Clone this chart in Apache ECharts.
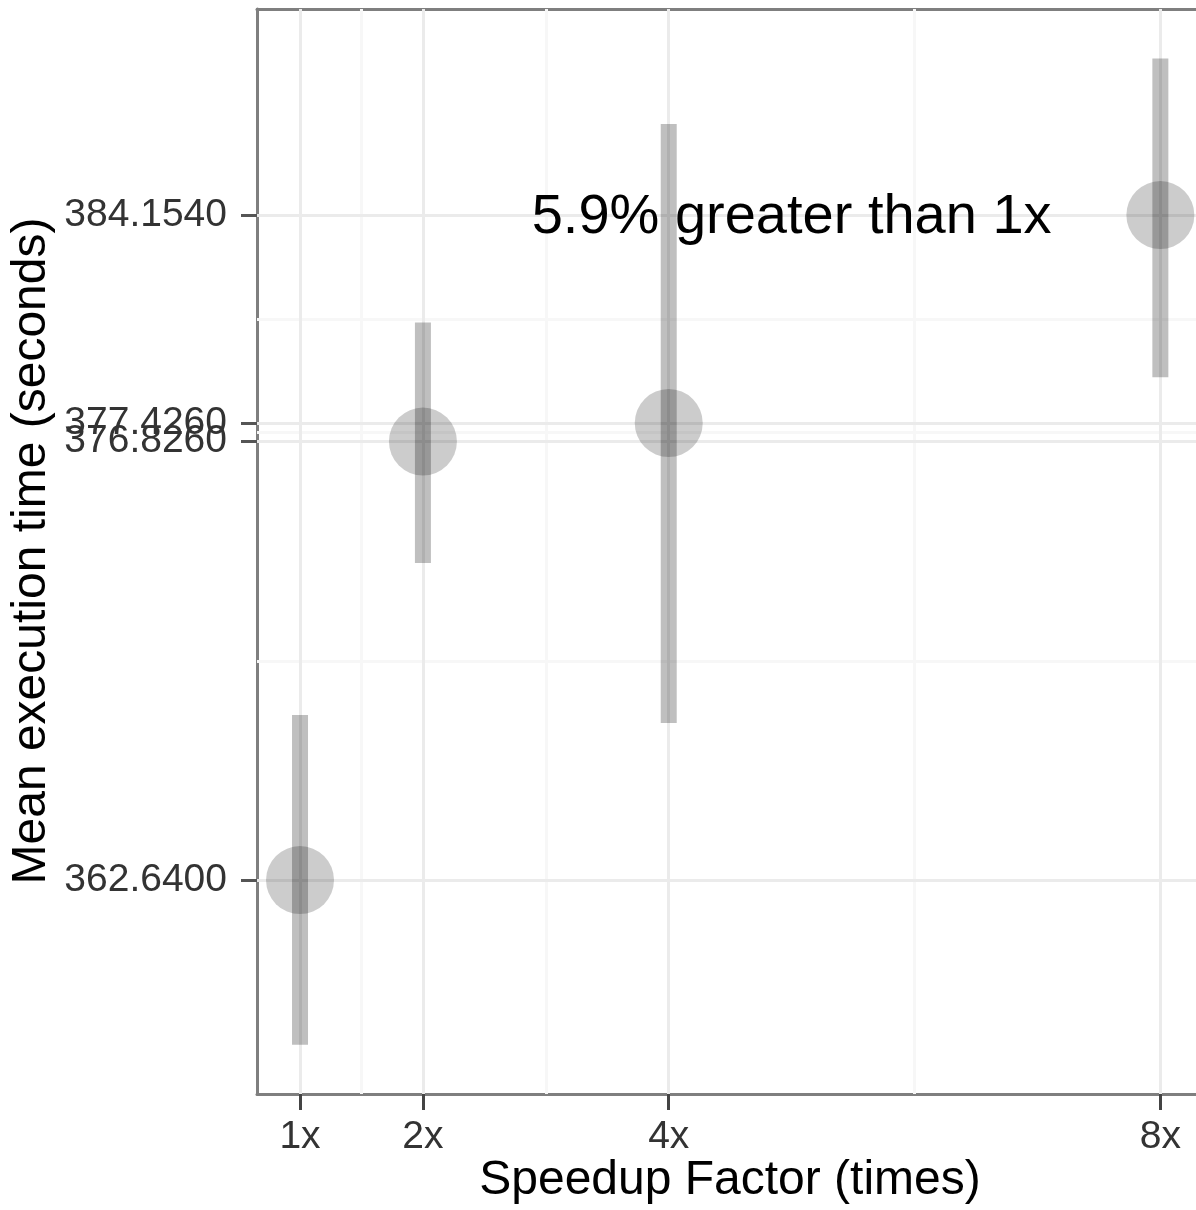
<!DOCTYPE html>
<html>
<head>
<meta charset="utf-8">
<script src="https://cdn.jsdelivr.net/npm/echarts@6/dist/echarts.min.js"></script>
<style>
html,body{margin:0;padding:0;background:#fff;}
#chart{width:1196px;height:1210px;}
</style>
</head>
<body>
<div id="chart"></div>
<script>
// ---- data ----
const speedupLabels = ['1x', '2x', '4x', '8x'];
const speedup = [1, 2, 4, 8];
const meanTime = [362.64, 376.826, 377.426, 384.154];
const lowerTime = [357.31, 372.90, 367.72, 378.91];
const upperTime = [367.98, 380.68, 387.10, 389.22];
const yTickValues = [362.64, 376.826, 377.426, 384.154];
const xTickValues = [1, 2, 4, 8];
const yMinorValues = [369.733, 377.126, 380.79];
const xMinorValues = [1.5, 3, 6];
const annotationX = 5;
const annotationY = 384.154;
const annotationText = '5.9% greater than 1x';
const xTitle = 'Speedup Factor (times)';
const yTitle = 'Mean execution time (seconds)';

// ---- build ----
const FONT = "'Liberation Sans', Arial, Helvetica, sans-serif";
const chart = echarts.init(document.getElementById('chart'), null, {renderer: 'canvas'});

const pointData = speedup.map((x, i) => [x, meanTime[i]]);
const barData = speedup.map((x, i) => [x, lowerTime[i], upperTime[i]]);
const BORDER = {show: true, onZero: false, lineStyle: {color: '#7f7f7f', width: 3}};

const option = {
  animation: false,
  backgroundColor: '#ffffff',
  grid: {left: 257, top: 9, right: 0, bottom: 116, show: false},
  xAxis: [{
    type: 'value', min: 0.65, max: 8.29, position: 'bottom',
    axisLine: BORDER,
    splitLine: {show: false},
    axisTick: {show: true, customValues: xTickValues, length: 16, inside: false,
      lineStyle: {color: '#444', width: 3}},
    axisLabel: {customValues: xTickValues, margin: 24, fontSize: 39, fontFamily: FONT, color: '#333',
      formatter: v => speedupLabels[speedup.indexOf(v)]}
  }, {
    type: 'value', min: 0.65, max: 8.29, position: 'top',
    axisLine: BORDER, splitLine: {show: false}, axisTick: {show: false}, axisLabel: {show: false}
  }],
  yAxis: {
    type: 'value', min: 355.72, max: 390.82,
    axisLine: BORDER,
    splitLine: {show: false},
    axisTick: {show: true, customValues: yTickValues, length: 16, inside: false,
      lineStyle: {color: '#555', width: 3}},
    axisLabel: {customValues: yTickValues, margin: 30, fontSize: 39, fontFamily: FONT, color: '#333',
      hideOverlap: false, formatter: v => v.toFixed(4)}
  },
  graphic: [
    {type: 'text', x: 730, y: 1181, silent: true,
      style: {text: xTitle, fontSize: 48, fontFamily: FONT, fill: '#000', align: 'center', verticalAlign: 'middle'}},
    {type: 'text', x: 32, y: 551, rotation: Math.PI / 2, silent: true,
      style: {text: yTitle, fontSize: 48, fontFamily: FONT, fill: '#000', align: 'center', verticalAlign: 'middle'}}
  ],
  series: [
    {
      type: 'scatter', data: [], z: 1, silent: true,
      markLine: {
        z: 1, silent: true, symbol: 'none', label: {show: false}, animation: false,
        lineStyle: {color: '#f7f7f7', width: 3, type: 'solid'},
        data: xMinorValues.map(v => ({xAxis: v})).concat(yMinorValues.map(v => ({yAxis: v})))
      }
    },
    {
      type: 'scatter', data: [], z: 2, silent: true,
      markLine: {
        z: 2, silent: true, symbol: 'none', label: {show: false}, animation: false,
        lineStyle: {color: '#ebebeb', width: 3, type: 'solid'},
        data: xTickValues.map(v => ({xAxis: v})).concat(yTickValues.map(v => ({yAxis: v})))
      }
    },
    {
      type: 'scatter', z: 3, silent: true,
      data: [[annotationX, annotationY]],
      symbolSize: 1, itemStyle: {color: 'rgba(0,0,0,0)'},
      label: {show: true, position: 'inside', offset: [0, 3], formatter: () => annotationText,
        fontSize: 56, fontFamily: FONT, color: '#000', opacity: 1}
    },
    {
      type: 'custom', z: 4, silent: true,
      data: barData,
      renderItem: function (params, api) {
        const top = api.coord([api.value(0), api.value(2)]);
        const bot = api.coord([api.value(0), api.value(1)]);
        const w = 16;
        return {
          type: 'rect',
          shape: {x: top[0] - w / 2, y: top[1], width: w, height: bot[1] - top[1]},
          style: {fill: 'rgba(0,0,0,0.25)'}
        };
      }
    },
    {
      type: 'scatter', z: 5, silent: true,
      data: pointData,
      symbol: 'circle', symbolSize: 68,
      itemStyle: {color: 'rgba(0,0,0,0.25)'}
    }
  ]
};
chart.setOption(option);
</script>
</body>
</html>
